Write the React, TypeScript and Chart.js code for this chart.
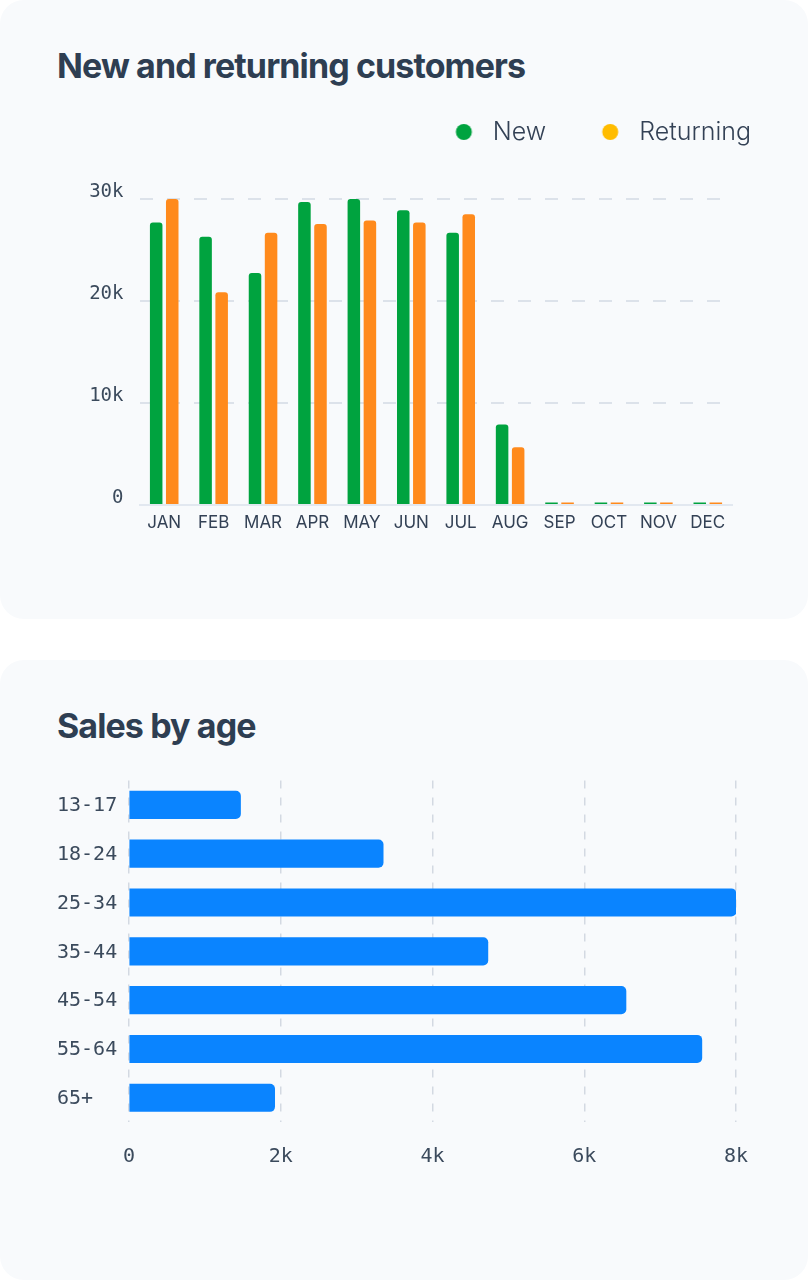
import React, { useEffect, useRef } from 'react';
import { Chart, registerables } from 'chart.js';

Chart.register(...registerables);

// ---- data ----
const months = ['JAN', 'FEB', 'MAR', 'APR', 'MAY', 'JUN', 'JUL', 'AUG', 'SEP', 'OCT', 'NOV', 'DEC'];
const newCustomers = [27700, 26300, 22750, 29700, 30000, 28900, 26700, 7900, 250, 250, 250, 250];
const returningCustomers = [30000, 20850, 26700, 27550, 27900, 27700, 28500, 5650, 250, 250, 250, 250];
const customerSeries = ['New', 'Returning'];

const ageGroups = ['13-17', '18-24', '25-34', '35-44', '45-54', '55-64', '65+'];
const salesByAge = [1470, 3350, 8000, 4730, 6550, 7550, 1920];

// ---- palette ----
const INK = '#334155';
const TICK_INK = '#3b4a5c';
const GREEN = '#00a33f';
const ORANGE = '#ff8a1c';
const YELLOW = '#ffbc00';
const BLUE = '#0a84ff';
const GRID = '#dce2ea';
const GRID_V = '#d3d9e2';
const CARD_BG = '#f8fafc';

const MONO = 'DejaVu Sans Mono';
const SANS = 'Inter';

const kLabel = (v: number | string) => {
  const n = Number(v);
  return n === 0 ? '0' : `${n / 1000}k`;
};

// Round only bars tall enough to carry the corner radius.
const topRadius = (c: any) => (Math.abs(Number(c.raw)) < 1000 ? 0 : 3);

// Legend marker: a round dot placed inside a wider transparent strip so the
// legend spacing between dot and text can be tuned.
const DOT_STRIP = 64;
function legendDot(color: string): HTMLCanvasElement {
  const c = document.createElement('canvas');
  c.width = DOT_STRIP;
  c.height = 16;
  const g = c.getContext('2d')!;
  g.fillStyle = color;
  g.beginPath();
  g.arc(47.5, 8, 8, 0, Math.PI * 2);
  g.fill();
  return c;
}

function CustomersChart() {
  const ref = useRef<HTMLCanvasElement>(null);
  useEffect(() => {
    if (!ref.current) return;
    const dots = [legendDot(GREEN), legendDot(YELLOW)];
    const chart = new Chart(ref.current, {
      type: 'bar',
      data: {
        labels: months,
        datasets: [
          {
            label: customerSeries[0],
            data: newCustomers,
            backgroundColor: GREEN,
            borderWidth: 0,
            borderRadius: topRadius,
            categoryPercentage: 0.65,
            barPercentage: 0.78,
          },
          {
            label: customerSeries[1],
            data: returningCustomers,
            backgroundColor: ORANGE,
            borderWidth: 0,
            borderRadius: topRadius,
            categoryPercentage: 0.65,
            barPercentage: 0.78,
          },
        ],
      },
      options: {
        animation: false,
        responsive: false,
        maintainAspectRatio: false,
        layout: { padding: { top: 3, right: 40.5, bottom: 0, left: 0 } },
        plugins: {
          legend: {
            position: 'top',
            align: 'end',
            labels: {
              usePointStyle: true,
              pointStyleWidth: DOT_STRIP,
              padding: 16.5,
              color: INK,
              font: { family: SANS, size: 25, weight: '300' as any },
              generateLabels: () =>
                customerSeries.map((text, i) => ({
                  text,
                  fillStyle: i === 0 ? GREEN : YELLOW,
                  strokeStyle: 'rgba(0,0,0,0)',
                  lineWidth: 0,
                  pointStyle: dots[i] as any,
                  datasetIndex: i,
                  hidden: false,
                  fontColor: INK,
                })),
            },
          },
          // empty title used as a spacer between the legend and the plot
          title: {
            display: true,
            text: '',
            weight: 500,
            padding: { top: 0, bottom: 34.5 },
            font: { size: 10, lineHeight: 1 },
          } as any,
          tooltip: { enabled: false },
        },
        scales: {
          x: {
            grid: { display: false },
            border: { display: true, color: '#e2e8f0', width: 2 },
            ticks: { color: INK, font: { family: SANS, size: 17 }, padding: 0 },
            afterFit: (s: any) => {
              s.height = 55;
            },
          },
          y: {
            min: 0,
            max: 30000,
            ticks: {
              stepSize: 10000,
              callback: kLabel,
              padding: 16,
              labelOffset: -7,
              color: TICK_INK,
              font: { family: MONO, size: 19 },
            },
            grid: {
              color: (c: any) => (c.tick && c.tick.value === 0 ? 'rgba(0,0,0,0)' : GRID),
              lineWidth: 2,
              drawTicks: false,
            },
            border: { display: false, dash: [13, 14] },
            afterFit: (s: any) => {
              s.width = 139.5;
            },
          },
          y2: {
            position: 'right',
            grid: { display: false },
            border: { display: false },
            ticks: { display: false },
            afterFit: (s: any) => {
              s.width = 35;
            },
          },
        },
      } as any,
    });
    return () => chart.destroy();
  }, []);
  return (
    <canvas
      ref={ref}
      width={808}
      height={460}
      style={{ position: 'absolute', left: 0, top: 100, width: 808, height: 460 }}
    />
  );
}

function AgeChart() {
  const ref = useRef<HTMLCanvasElement>(null);
  useEffect(() => {
    if (!ref.current) return;
    const chart = new Chart(ref.current, {
      type: 'bar',
      data: {
        labels: ageGroups,
        datasets: [
          {
            label: 'Sales',
            data: salesByAge,
            backgroundColor: BLUE,
            borderWidth: 0,
            borderRadius: 5,
            barThickness: 27.5,
          },
        ],
      },
      options: {
        indexAxis: 'y',
        animation: false,
        responsive: false,
        maintainAspectRatio: false,
        layout: { padding: { top: 20.4, right: 72, bottom: 0, left: 57 } },
        plugins: {
          legend: { display: false },
          title: { display: false },
          tooltip: { enabled: false },
        },
        scales: {
          x: {
            min: 0,
            max: 8000,
            ticks: {
              stepSize: 2000,
              callback: kLabel,
              padding: 23,
              color: TICK_INK,
              font: { family: MONO, size: 20 },
            },
            grid: { color: GRID_V, lineWidth: 1.5, drawTicks: false },
            border: { display: false, dash: [8, 9] },
            afterFit: (s: any) => {
              s.height = 97.8;
            },
          },
          y: {
            grid: { display: false },
            border: { display: false },
            ticks: {
              crossAlign: 'far',
              padding: 0,
              labelOffset: 1,
              color: TICK_INK,
              font: { family: MONO, size: 20 },
            },
            afterFit: (s: any) => {
              s.width = 72;
            },
          },
        },
      } as any,
    });
    return () => chart.destroy();
  }, []);
  return (
    <canvas
      ref={ref}
      width={808}
      height={460}
      style={{ position: 'absolute', left: 0, top: 100, width: 808, height: 460 }}
    />
  );
}

const cardStyle = (top: number, height: number): React.CSSProperties => ({
  position: 'absolute',
  left: 0,
  top,
  width: 808,
  height,
  borderRadius: 24,
  background: CARD_BG,
  overflow: 'hidden',
});

const titleStyle: React.CSSProperties = {
  position: 'absolute',
  left: 57,
  top: 49,
  margin: 0,
  fontFamily: SANS,
  fontWeight: 700,
  fontSize: 34,
  lineHeight: '34px',
  letterSpacing: '-0.9px',
  color: '#2e3e52',
  whiteSpace: 'nowrap',
};

export default function App() {
  useEffect(() => {
    document.body.style.margin = '0';
    document.body.style.background = '#ffffff';
  }, []);
  return (
    <div style={{ position: 'relative', width: 809, height: 1280, background: '#ffffff' }}>
      <div style={cardStyle(0, 619)}>
        <h2 style={titleStyle}>New and returning customers</h2>
        <CustomersChart />
      </div>
      <div style={cardStyle(660, 620)}>
        <h2 style={titleStyle}>Sales by age</h2>
        <AgeChart />
      </div>
    </div>
  );
}
